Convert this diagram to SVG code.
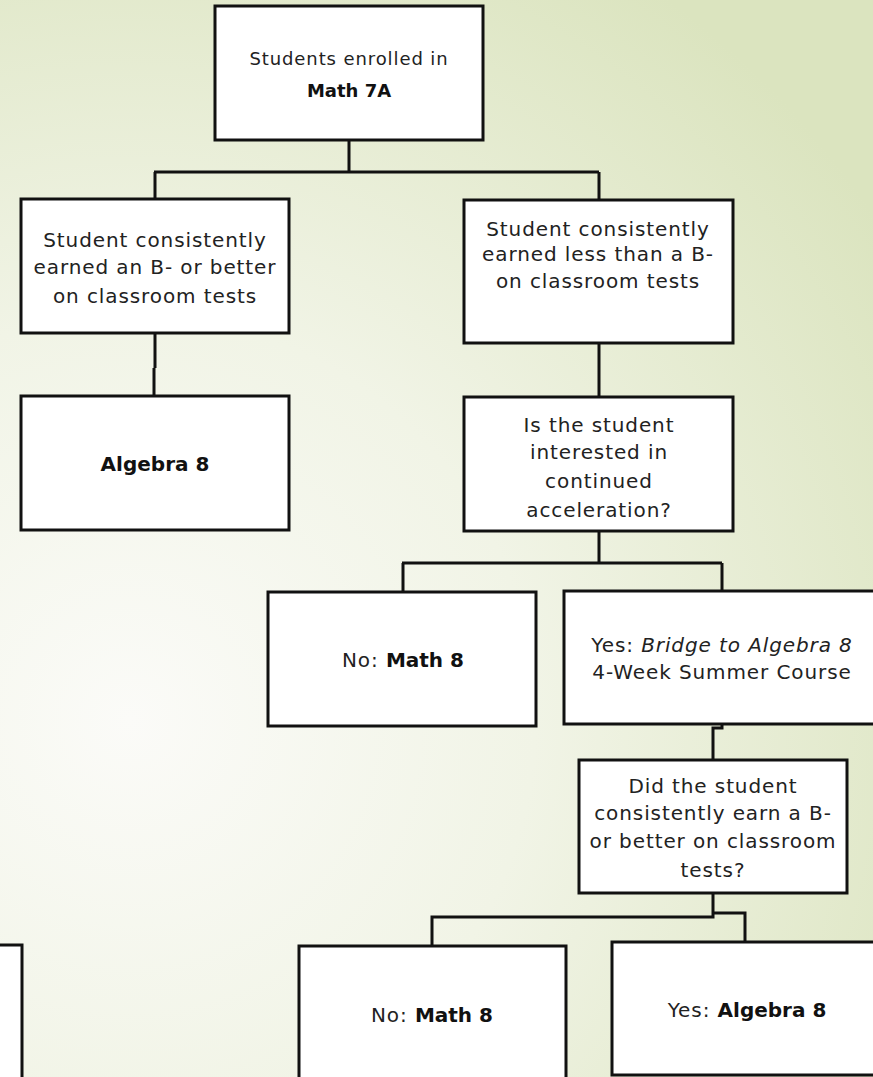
<svg xmlns="http://www.w3.org/2000/svg" width="873" height="1077" viewBox="0 0 873 1077">
<defs>
<radialGradient id="bg" gradientUnits="userSpaceOnUse" cx="130" cy="720" r="900">
<stop offset="0" stop-color="#fbfbf8"/>
<stop offset="0.45" stop-color="#f1f4e6"/>
<stop offset="1" stop-color="#dbe4bf"/>
</radialGradient>
<style>
.box{fill:#ffffff;stroke:#111111;stroke-width:3}
.t{font-family:"DejaVu Sans","Liberation Sans",sans-serif;font-size:20px;fill:#222222;text-anchor:middle;letter-spacing:0.9px}
.s{font-size:18px}
.b{font-weight:bold;fill:#111111;letter-spacing:0}
.i{font-style:italic}
.c{fill:none;stroke:#111111;stroke-width:3}
</style>
</defs>
<rect width="873" height="1077" fill="url(#bg)"/>
<g id="connectors" class="c">
<path d="M349,140 V172 M154,172 H599 M155,172 V199 M599,172 V200"/>
<path d="M155,333 V368 M154,368 V396"/>
<path d="M599,343 V397"/>
<path d="M599,531 V563 M402,563 H722 M403,563 V592 M722,563 V591"/>
<path d="M722,724 V728 H713 V760"/>
<path d="M713,893 V917 H432 V946 M713,913 H745 V942"/>
</g>
<g id="n-start">
<rect class="box" x="215" y="6" width="268" height="134"/>
<text class="t s" x="349" y="65">Students enrolled in</text>
<text class="t s b" x="349" y="97">Math 7A</text>
</g>
<g id="n-bplus">
<rect class="box" x="21" y="199" width="268" height="134"/>
<text class="t" x="155" y="247">Student consistently</text>
<text class="t" x="155" y="274">earned an B- or better</text>
<text class="t" x="155" y="303">on classroom tests</text>
</g>
<g id="n-less">
<rect class="box" x="464" y="200" width="269" height="143"/>
<text class="t" x="598" y="236">Student consistently</text>
<text class="t" x="598" y="261">earned less than a B-</text>
<text class="t" x="598" y="288">on classroom tests</text>
</g>
<g id="n-alg8">
<rect class="box" x="21" y="396" width="268" height="134"/>
<text class="t b" x="155" y="471">Algebra 8</text>
</g>
<g id="n-interest">
<rect class="box" x="464" y="397" width="269" height="134"/>
<text class="t" x="599" y="432">Is the student</text>
<text class="t" x="599" y="459">interested in</text>
<text class="t" x="599" y="488">continued</text>
<text class="t" x="599" y="517">acceleration?</text>
</g>
<g id="n-no1">
<rect class="box" x="268" y="592" width="268" height="134"/>
<text class="t" x="403" y="667">No: <tspan class="b">Math 8</tspan></text>
</g>
<g id="n-yes1">
<rect class="box" x="564" y="591" width="330" height="133"/>
<text class="t" x="722" y="652">Yes: <tspan class="i">Bridge to Algebra 8</tspan></text>
<text class="t" x="722" y="679">4-Week Summer Course</text>
</g>
<g id="n-did">
<rect class="box" x="579" y="760" width="268" height="133"/>
<text class="t" x="713" y="793">Did the student</text>
<text class="t" x="713" y="820">consistently earn a B-</text>
<text class="t" x="713" y="848">or better on classroom</text>
<text class="t" x="713" y="877">tests?</text>
</g>
<g id="n-left">
<rect class="box" x="-250" y="945" width="272" height="160"/>
</g>
<g id="n-no2">
<rect class="box" x="299" y="946" width="267" height="160"/>
<text class="t" x="432" y="1022">No: <tspan class="b">Math 8</tspan></text>
</g>
<g id="n-yes2">
<rect class="box" x="612" y="942" width="290" height="133"/>
<text class="t" x="747" y="1017">Yes: <tspan class="b">Algebra 8</tspan></text>
</g>
</svg>
